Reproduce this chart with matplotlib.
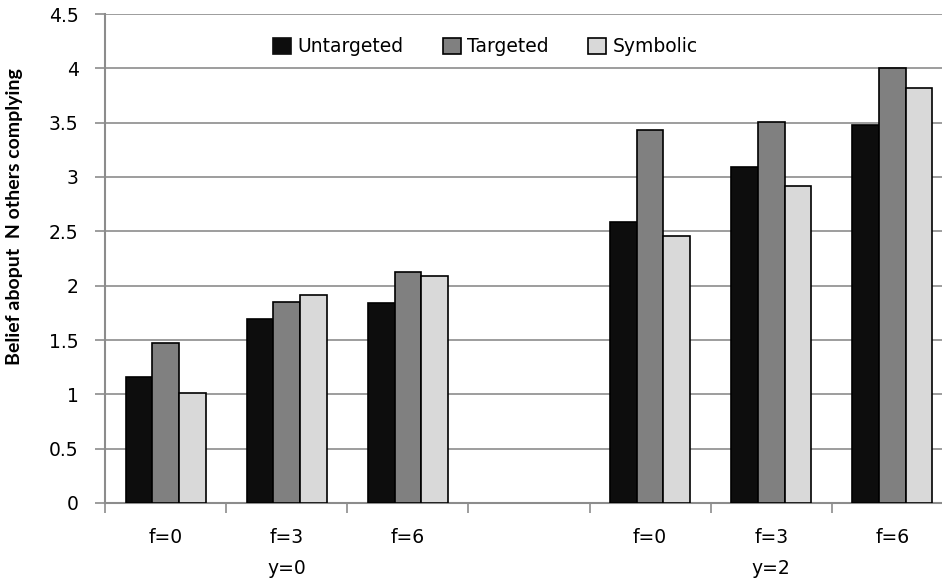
import numpy as np
import matplotlib.pyplot as plt
from matplotlib.patches import Patch

plt.rcParams['font.family'] = ['DejaVu Sans']

# data (slot 3 is the empty gap between y=0 and y=2)
slot_labels = ["f=0", "f=3", "f=6", "", "f=0", "f=3", "f=6"]
group_labels = ["y=0", "y=2"]
series_names = ["Untargeted", "Targeted", "Symbolic"]
untargeted = [1.16, 1.69, 1.84, np.nan, 2.59, 3.09, 3.48]
targeted = [1.47, 1.85, 2.13, np.nan, 3.43, 3.51, 4.00]
symbolic = [1.01, 1.91, 2.09, np.nan, 2.46, 2.92, 3.82]
colors = ["#0d0d0d", "#808080", "#d9d9d9"]

FS = 13.5

fig = plt.figure(figsize=(9.42, 5.84), dpi=100)
# axes runs a bit past the right edge, like the original cropped chart
ax = fig.add_axes([105/942, 81/584, 848/942, 489/584])

x = np.arange(len(slot_labels))
w = 0.22
for i, (vals, c, name) in enumerate(zip([untargeted, targeted, symbolic], colors, series_names)):
    ax.bar(x + (i - 1) * w, vals, w, color=c, edgecolor="black", linewidth=1.2,
           label=name, zorder=3)

ax.set_xlim(-0.5, 6.5)
ax.set_ylim(0, 4.5)
ax.set_yticks(np.arange(0, 4.51, 0.5))
ax.set_yticklabels(["0", "0.5", "1", "1.5", "2", "2.5", "3", "3.5", "4", "4.5"])
ax.yaxis.grid(True, color="#8c8c8c", linewidth=1.2, zorder=0)
ax.set_axisbelow(True)

ax.set_xticks(np.arange(-0.5, 6.6, 1.0))
ax.set_xticklabels([])
ax.set_xticks(x, minor=True)
ax.set_xticklabels(slot_labels, minor=True)
ax.tick_params(axis="x", which="major", length=7, width=1.2, color="#8c8c8c", direction="out")
ax.tick_params(axis="x", which="minor", length=0, pad=18, labelsize=FS)
ax.tick_params(axis="y", length=7, width=1.2, color="#8c8c8c", pad=12, labelsize=FS)

for s in ["top", "right"]:
    ax.spines[s].set_visible(False)
for s in ["left", "bottom"]:
    ax.spines[s].set_color("#8c8c8c")
    ax.spines[s].set_linewidth(1.5)

# group labels under the middle slot of each group
for lab, xc in zip(group_labels, [1, 5]):
    ax.text(xc, -0.6, lab, ha="center", va="center", fontsize=FS,
            transform=ax.transData, clip_on=False)

fig.text(15/942, 1 - 217/584, "Belief aboput  N others complying", rotation=90,
         ha="center", va="center", fontsize=14, fontweight="bold", family="Lato")

handles = [Patch(facecolor=c, edgecolor="black" if i else c, linewidth=1.2) for i, c in enumerate(colors)]
ax.legend(handles, series_names, ncol=3, frameon=False, loc="center left",
          bbox_to_anchor=((273 - 105)/848, 1 - (47 - 14)/489), fontsize=FS,
          handlelength=0.95, handleheight=0.9, handletextpad=0.35, columnspacing=2.1,
          borderpad=0, borderaxespad=0)

fig.savefig("out.png", dpi=100)
